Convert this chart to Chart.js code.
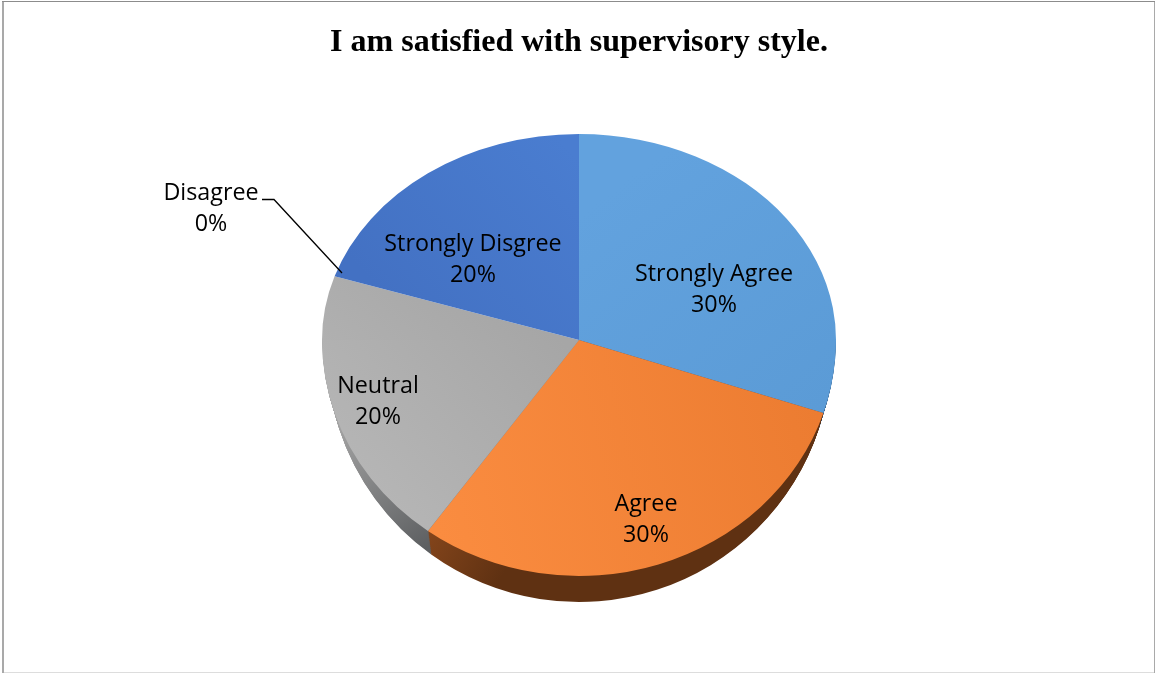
<!DOCTYPE html>
<html>
<head>
<meta charset="utf-8">
<title>I am satisfied with supervisory style.</title>
<script src="https://cdn.jsdelivr.net/npm/chart.js@4/dist/chart.umd.min.js"></script>
<style>
  html, body { margin: 0; padding: 0; background: #fff; }
  canvas { display: block; }
</style>
</head>
<body>
<canvas id="pieChart" width="1155" height="673"></canvas>
<script>
const titleText = 'I am satisfied with supervisory style.';
const categories = ['Strongly Agree', 'Agree', 'Neutral', 'Disagree', 'Strongly Disgree'];
const shares = [30, 30, 20, 0, 20];
const faceColors = ['#5b9bd5', '#ed7d31', '#a5a5a5', '#ffc000', '#4472c4'];

// centre of each data label, the 3D look is only a canvas transform
const labelSpots = [[714, 290], [646, 520], [378, 402], [211, 209], [473, 260]];
const leader = [[262, 199.5], [274, 199.5], [342, 273]];

// top face: apex sits above the middle of the ellipse, so two half ellipses
const PIE = { cx: 579, cy: 340, rx: 257, ryTop: 206, ryBottom: 236 };
const RIM = { steps: 26, cy: 352, rx: 252, ry: 250 };

const faceGradients = [
  [[600, 200], [830, 400], '#62a2de', '#5b9bd6'],
  [[430, 500], [820, 420], '#fa8c40', '#ec7c31'],
  [[340, 520], [570, 350], '#b8b8b8', '#a6a6a6'],
  [[360, 270], [570, 150], '#4371c3', '#4a7dd0'],
  [[360, 270], [570, 150], '#4371c3', '#4a7dd0']
];
const rimGradients = [
  [[600, 400], [830, 420], '#33577c', '#33577c'],
  [[422, 540], [500, 580], '#84451b', '#5f3112'],
  [[335, 430], [424, 550], '#a2a2a2', '#5d5f61'],
  [[0, 0], [1, 0], '#000000', '#000000'],
  [[0, 0], [1, 0], '#000000', '#000000']
];

function paintArc(ctx, arc, spec, shape) {
  const R = arc.outerRadius;
  const toLocal = ([x, y]) => [
    arc.x + (x - shape.cx) * R / shape.rx,
    arc.y + (y - shape.cy) * R / shape.ry
  ];
  const [x0, y0] = toLocal(spec[0]);
  const [x1, y1] = toLocal(spec[1]);
  const fill = ctx.createLinearGradient(x0, y0, x1, y1);
  fill.addColorStop(0, spec[2]);
  fill.addColorStop(1, spec[3]);

  const painted = Object.create(arc);
  painted.options = Object.assign({}, arc.options, { backgroundColor: fill, borderWidth: 0 });

  ctx.save();
  ctx.beginPath();
  ctx.rect(0, shape.clipTop, ctx.canvas.width, shape.clipBottom - shape.clipTop);
  ctx.clip();
  ctx.translate(shape.cx, shape.cy);
  ctx.scale(shape.rx / R, shape.ry / R);
  ctx.translate(-arc.x, -arc.y);
  painted.draw(ctx);
  ctx.restore();
}

const tiltedPie = {
  id: 'tiltedPie',
  beforeDraw(chart) {
    const { ctx, width, height } = chart;
    ctx.save();
    ctx.fillStyle = '#ffffff';
    ctx.fillRect(0, 0, width, height);
    ctx.fillStyle = '#a9a9a9';
    ctx.fillRect(2, 1, 2, height - 1);
    ctx.fillRect(width - 1, 1, 1, height - 1);
    ctx.fillStyle = '#8c8c8c';
    ctx.fillRect(2, 1, width - 2, 1);
    ctx.fillStyle = '#dddddd';
    ctx.fillRect(4, height - 1, width - 5, 1);
    ctx.restore();
  },
  beforeDatasetDraw(chart) {
    const { ctx, height } = chart;
    const arcs = chart.getDatasetMeta(0).data;

    for (let i = RIM.steps; i >= 1; i--) {
      const t = i / RIM.steps;
      const cy = PIE.cy + (RIM.cy - PIE.cy) * t;
      const shape = {
        cx: PIE.cx,
        cy,
        rx: PIE.rx + (RIM.rx - PIE.rx) * t,
        ry: PIE.ryBottom + (RIM.ry - PIE.ryBottom) * t,
        clipTop: Math.round(cy),
        clipBottom: height
      };
      arcs.forEach((arc, idx) => paintArc(ctx, arc, rimGradients[idx], shape));
    }

    arcs.forEach((arc, idx) => {
      paintArc(ctx, arc, faceGradients[idx], {
        cx: PIE.cx, cy: PIE.cy, rx: PIE.rx, ry: PIE.ryTop, clipTop: 0, clipBottom: PIE.cy
      });
      paintArc(ctx, arc, faceGradients[idx], {
        cx: PIE.cx, cy: PIE.cy, rx: PIE.rx, ry: PIE.ryBottom, clipTop: PIE.cy, clipBottom: height
      });
    });
    return false;
  },
  afterDatasetsDraw(chart) {
    const { ctx } = chart;
    ctx.save();
    ctx.strokeStyle = '#000000';
    ctx.lineWidth = 1.3;
    ctx.beginPath();
    leader.forEach(([x, y], i) => (i ? ctx.lineTo(x, y) : ctx.moveTo(x, y)));
    ctx.stroke();

    ctx.fillStyle = '#000000';
    ctx.font = '23.3px "Open Sans", Lato, sans-serif';
    ctx.textAlign = 'center';
    ctx.textBaseline = 'middle';
    categories.forEach((name, idx) => {
      const [x, y] = labelSpots[idx];
      ctx.fillText(name, x, y - 15.5);
      ctx.fillText(`${shares[idx]}%`, x, y + 15.5);
    });
    ctx.restore();
  }
};

new Chart(document.getElementById('pieChart'), {
  type: 'pie',
  data: {
    labels: categories,
    datasets: [{ data: shares, backgroundColor: faceColors, borderWidth: 0 }]
  },
  plugins: [tiltedPie],
  options: {
    responsive: false,
    animation: false,
    layout: { padding: { left: 3, top: 14 } },
    plugins: {
      legend: { display: false },
      tooltip: { enabled: false },
      title: {
        display: true,
        text: titleText,
        color: '#000000',
        font: { family: '"Liberation Serif", "Times New Roman", serif', size: 32, weight: 'bold' },
        padding: { top: 10, bottom: 20 }
      }
    }
  }
});
</script>
</body>
</html>
